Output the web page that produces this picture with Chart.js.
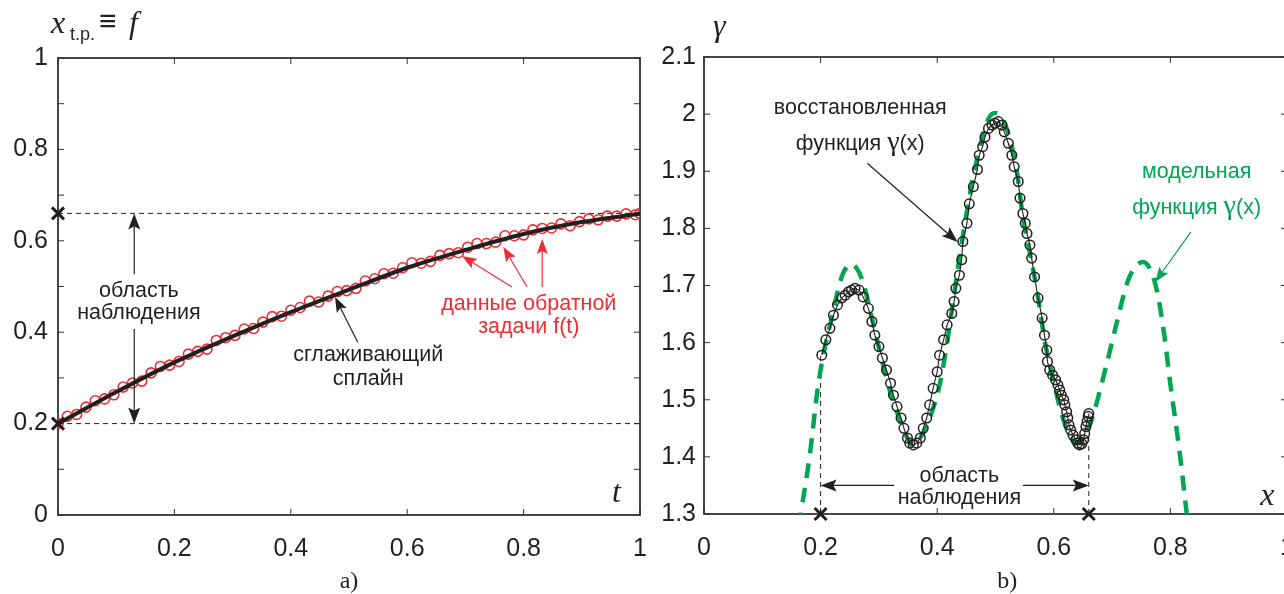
<!DOCTYPE html>
<html>
<head>
<meta charset="utf-8">
<script src="https://cdn.jsdelivr.net/npm/chart.js@4"></script>
<style>
  html, body { margin: 0; padding: 0; background: #fff; overflow: hidden; width: 1284px; height: 594px; }
  #wrapA { position: absolute; left: 0; top: 0; width: 660px; height: 594px; }
  #wrapB { position: absolute; left: 656px; top: 0; width: 650px; height: 594px; }
</style>
</head>
<body>
<div id="wrapA"><canvas id="chartA"></canvas></div>
<div id="wrapB"><canvas id="chartB"></canvas></div>
<script>
// panel a) : inverse problem data f(t) and smoothing spline
const T_DATA = [0, 0.016, 0.032, 0.048, 0.064, 0.08, 0.096, 0.112, 0.128, 0.144, 0.16, 0.176, 0.192, 0.208, 0.224, 0.24,
  0.256, 0.272, 0.288, 0.304, 0.32, 0.336, 0.352, 0.368, 0.384, 0.4, 0.416, 0.432, 0.448, 0.464, 0.48, 0.496,
  0.512, 0.528, 0.544, 0.56, 0.576, 0.592, 0.608, 0.624, 0.64, 0.656, 0.672, 0.688, 0.704, 0.72, 0.736, 0.752,
  0.768, 0.784, 0.8, 0.816, 0.832, 0.848, 0.864, 0.88, 0.896, 0.912, 0.928, 0.944, 0.96, 0.976, 0.992, 1.0];
const F_DATA = [0.200, 0.216, 0.220, 0.236, 0.250, 0.254, 0.263, 0.280, 0.289, 0.293, 0.311, 0.325, 0.328, 0.336, 0.352, 0.358,
  0.363, 0.382, 0.388, 0.393, 0.407, 0.408, 0.422, 0.434, 0.435, 0.448, 0.454, 0.468, 0.466, 0.479, 0.489, 0.491,
  0.496, 0.512, 0.517, 0.528, 0.529, 0.541, 0.552, 0.551, 0.555, 0.568, 0.572, 0.574, 0.586, 0.594, 0.594, 0.597,
  0.611, 0.611, 0.613, 0.624, 0.627, 0.628, 0.637, 0.633, 0.642, 0.648, 0.646, 0.654, 0.654, 0.659, 0.657, 0.660];
const T_SPLINE = [0, 0.1, 0.2, 0.3, 0.4, 0.5, 0.6, 0.7, 0.8, 0.9, 1.0];
const F_SPLINE = [0.200, 0.269, 0.334, 0.391, 0.444, 0.493, 0.541, 0.580, 0.615, 0.641, 0.659];
const BOUNDS = [0.2, 0.66];

// panel b) : reconstructed and model gamma(x)
const X_REC = [0.202, 0.209, 0.216, 0.222, 0.229, 0.236, 0.242, 0.248, 0.253, 0.259, 0.266, 0.273, 0.282, 0.288, 0.293, 0.300,
  0.306, 0.313, 0.320, 0.325, 0.331, 0.338, 0.343, 0.349, 0.353, 0.359, 0.365, 0.371, 0.376, 0.382, 0.387, 0.393,
  0.400, 0.404, 0.411, 0.417, 0.425, 0.429, 0.432, 0.438, 0.442, 0.444, 0.451, 0.455, 0.462, 0.469, 0.472, 0.478,
  0.482, 0.488, 0.494, 0.499, 0.505, 0.511, 0.515, 0.522, 0.528, 0.532, 0.539, 0.542, 0.547, 0.551, 0.554, 0.559,
  0.562, 0.567, 0.573, 0.580, 0.584, 0.588, 0.589, 0.593, 0.598, 0.603, 0.607, 0.610, 0.613, 0.617, 0.619, 0.622,
  0.624, 0.626, 0.629, 0.633, 0.638, 0.641, 0.644, 0.648, 0.651, 0.653, 0.655, 0.657, 0.659, 0.660];
const G_REC = [1.578, 1.605, 1.625, 1.648, 1.666, 1.678, 1.683, 1.689, 1.692, 1.695, 1.692, 1.680, 1.660, 1.637, 1.613, 1.593,
  1.573, 1.552, 1.529, 1.508, 1.488, 1.468, 1.450, 1.433, 1.424, 1.421, 1.424, 1.433, 1.450, 1.468, 1.491, 1.520,
  1.549, 1.578, 1.605, 1.631, 1.651, 1.672, 1.695, 1.718, 1.745, 1.777, 1.809, 1.843, 1.873, 1.903, 1.928, 1.943,
  1.960, 1.975, 1.981, 1.984, 1.987, 1.981, 1.969, 1.949, 1.928, 1.908, 1.882, 1.853, 1.826, 1.809, 1.791, 1.771,
  1.748, 1.715, 1.678, 1.643, 1.613, 1.587, 1.567, 1.552, 1.543, 1.535, 1.526, 1.517, 1.508, 1.500, 1.491, 1.479,
  1.468, 1.456, 1.447, 1.438, 1.430, 1.424, 1.421, 1.423, 1.430, 1.441, 1.453, 1.462, 1.471, 1.476];
const X_MODEL = [0.150, 0.166, 0.182, 0.194, 0.204, 0.221, 0.233, 0.245, 0.253, 0.262, 0.273, 0.290, 0.305, 0.322, 0.336, 0.347,
  0.358, 0.372, 0.388, 0.405, 0.417, 0.434, 0.451, 0.468, 0.487, 0.499, 0.512, 0.525, 0.537, 0.547, 0.559, 0.571,
  0.585, 0.600, 0.615, 0.628, 0.642, 0.655, 0.668, 0.690, 0.708, 0.726, 0.740, 0.753, 0.766, 0.777, 0.790, 0.799,
  0.816, 0.828, 0.840];
const G_MODEL = [1.190, 1.300, 1.407, 1.512, 1.575, 1.652, 1.705, 1.733, 1.737, 1.730, 1.705, 1.634, 1.570, 1.505, 1.465, 1.437,
  1.420, 1.435, 1.470, 1.530, 1.600, 1.720, 1.830, 1.920, 1.990, 2.002, 1.992, 1.955, 1.897, 1.820, 1.757, 1.692,
  1.600, 1.530, 1.470, 1.435, 1.425, 1.440, 1.475, 1.560, 1.635, 1.705, 1.733, 1.741, 1.727, 1.690, 1.610, 1.535,
  1.407, 1.300, 1.190];

const INK = '#231f20';
const RED = '#ee2c33';
const GREEN = '#00a651';
const SANS = '"Liberation Sans", Arial, sans-serif';
const SERIF = '"Liberation Serif", "Times New Roman", serif';

Chart.defaults.font.family = SANS;
Chart.defaults.font.size = 25;
Chart.defaults.color = INK;

const pairs = (xs, ys) => xs.map((v, i) => ({ x: v, y: ys[i] }));

function arrow(ctx, x1, y1, x2, y2, color, len = 15, half = 5.5) {
  const a = Math.atan2(y2 - y1, x2 - x1);
  const c = Math.cos(a), s = Math.sin(a);
  ctx.save();
  ctx.strokeStyle = color;
  ctx.fillStyle = color;
  ctx.lineWidth = 1.2;
  ctx.beginPath();
  ctx.moveTo(x1, y1);
  ctx.lineTo(x2 - c * len * 0.7, y2 - s * len * 0.7);
  ctx.stroke();
  ctx.beginPath();
  ctx.moveTo(x2, y2);
  ctx.lineTo(x2 - c * len + s * half, y2 - s * len - c * half);
  ctx.lineTo(x2 - c * len * 0.8, y2 - s * len * 0.8);
  ctx.lineTo(x2 - c * len - s * half, y2 - s * len + c * half);
  ctx.closePath();
  ctx.fill();
  ctx.restore();
}

// parts: [text, font, colour]; drawn centred on cx at baseline y
function runs(ctx, parts, cx, y) {
  let w = 0;
  parts.forEach(p => { ctx.font = p[1]; w += ctx.measureText(p[0]).width; });
  let x = cx - w / 2;
  ctx.textAlign = 'left';
  ctx.textBaseline = 'alphabetic';
  parts.forEach(p => {
    ctx.font = p[1];
    ctx.fillStyle = p[2];
    ctx.fillText(p[0], x, y);
    x += ctx.measureText(p[0]).width;
  });
}

const NOTE = '21.5px ' + SANS;
const GAMMA = '28px ' + SERIF;
const MATH = 'italic 32px ' + SERIF;

const frame = {
  id: 'frame',
  beforeDatasetsDraw(chart) {
    const { ctx, chartArea: a, scales: { x, y } } = chart;
    ctx.save();
    ctx.strokeStyle = '#333';
    ctx.lineWidth = 1;
    ctx.beginPath();
    x.ticks.forEach(t => {
      const p = x.getPixelForValue(t.value);
      ctx.moveTo(p, a.bottom); ctx.lineTo(p, a.bottom - 6);
      ctx.moveTo(p, a.top); ctx.lineTo(p, a.top + 6);
    });
    y.ticks.forEach(t => {
      const p = y.getPixelForValue(t.value);
      ctx.moveTo(a.left, p); ctx.lineTo(a.left + 6, p);
      ctx.moveTo(a.right, p); ctx.lineTo(a.right - 6, p);
    });
    ctx.stroke();
    ctx.lineWidth = 1.8;
    ctx.strokeRect(a.left, a.top, a.right - a.left, a.bottom - a.top);
    ctx.restore();
  }
};

const notesA = {
  id: 'notesA',
  afterDatasetsDraw(chart) {
    const { ctx, chartArea: a, scales: { x, y } } = chart;
    const X = v => x.getPixelForValue(v), Y = v => y.getPixelForValue(v);
    ctx.save();
    // observation interval
    arrow(ctx, X(0.131), Y(0.527), X(0.131), Y(0.66), INK, 16, 6);
    arrow(ctx, X(0.131), Y(0.407), X(0.131), Y(0.2), INK, 16, 6);
    runs(ctx, [['область', NOTE, INK]], X(0.139), Y(0.477));
    runs(ctx, [['наблюдения', NOTE, INK]], X(0.139), Y(0.4286));
    // spline
    arrow(ctx, X(0.515), Y(0.378), X(0.476), Y(0.477), INK, 15, 5.5);
    runs(ctx, [['сглаживающий', NOTE, INK]], X(0.533), Y(0.336));
    runs(ctx, [['сплайн', NOTE, INK]], X(0.533), Y(0.2835));
    // data
    arrow(ctx, X(0.780), Y(0.499), X(0.694), Y(0.567), RED, 15, 5.5);
    arrow(ctx, X(0.806), Y(0.499), X(0.765), Y(0.587), RED, 15, 5.5);
    arrow(ctx, X(0.832), Y(0.499), X(0.832), Y(0.604), RED, 15, 5.5);
    runs(ctx, [['данные обратной', NOTE, RED]], X(0.809), Y(0.448));
    runs(ctx, [['задачи f(t)', NOTE, RED]], X(0.809), Y(0.398));
    // axis names
    ctx.fillStyle = INK;
    ctx.textAlign = 'left';
    ctx.font = MATH;
    ctx.fillText('x', a.left - 7, a.top - 25);
    ctx.font = '18px ' + SANS;
    ctx.fillText('t.p.', a.left + 12, a.top - 18);
    ctx.font = '30px ' + SANS;
    ctx.fillText('\u2261', a.left + 41, a.top - 27);
    ctx.font = MATH;
    ctx.fillText('f', a.left + 71, a.top - 25);
    ctx.fillText('t', X(0.952), Y(0.0286));
    ctx.font = '24px ' + SERIF;
    ctx.textAlign = 'center';
    ctx.fillText('a)', (a.left + a.right) / 2, a.bottom + 73);
    ctx.restore();
  }
};

const notesB = {
  id: 'notesB',
  afterDatasetsDraw(chart) {
    const { ctx, chartArea: a, scales: { x, y } } = chart;
    const X = v => x.getPixelForValue(v), Y = v => y.getPixelForValue(v);
    ctx.save();
    // observation interval
    arrow(ctx, X(0.326), Y(1.35), X(BOUNDS[0]), Y(1.35), INK, 16, 6);
    arrow(ctx, X(0.547), Y(1.35), X(BOUNDS[1]), Y(1.35), INK, 16, 6);
    runs(ctx, [['область', NOTE, INK]], X(0.438), Y(1.356));
    runs(ctx, [['наблюдения', NOTE, INK]], X(0.438), Y(1.3175));
    // reconstructed
    runs(ctx, [['восстановленная', NOTE, INK]], X(0.268), Y(2.0));
    runs(ctx, [['функция ', NOTE, INK], ['\u03b3', GAMMA, INK], ['(x)', NOTE, INK]], X(0.268), Y(1.937));
    arrow(ctx, X(0.28), Y(1.914), X(0.435), Y(1.776), INK, 16, 6);
    // model
    runs(ctx, [['модельная', NOTE, GREEN]], X(0.845), Y(1.888));
    runs(ctx, [['функция ', NOTE, GREEN], ['\u03b3', GAMMA, GREEN], ['(x)', NOTE, GREEN]], X(0.845), Y(1.825));
    arrow(ctx, X(0.835), Y(1.794), X(0.774), Y(1.706), GREEN, 15, 5.5);
    // axis names
    ctx.fillStyle = INK;
    ctx.textAlign = 'left';
    ctx.font = MATH;
    ctx.fillText('\u03b3', a.left + 9, a.top - 21);
    ctx.fillText('x', X(0.954), a.bottom - 9);
    ctx.font = '24px ' + SERIF;
    ctx.textAlign = 'center';
    ctx.fillText('b)', X(0.52), a.bottom + 74);
    ctx.restore();
  }
};

const fmt = v => String(+v.toFixed(1));

const crossSet = pts => ({
  data: pts,
  showLine: false,
  pointStyle: 'crossRot',
  pointRadius: 8.5,
  pointBorderWidth: 3,
  pointBorderColor: INK,
  borderColor: INK,
  clip: false,
  order: 0
});

const dashSet = pts => ({
  data: pts,
  showLine: true,
  borderColor: INK,
  borderWidth: 1,
  borderDash: [5, 4],
  pointRadius: 0,
  order: 3
});

const xFit = h => s => { s.height = h; s.paddingLeft = 0; s.paddingRight = 0; };
const yFit = w => s => { s.width = w; s.paddingTop = 0; s.paddingBottom = 0; };

new Chart(document.getElementById('chartA'), {
  type: 'scatter',
  data: {
    datasets: [
      {
        label: 'сглаживающий сплайн',
        data: pairs(T_SPLINE, F_SPLINE),
        showLine: true,
        cubicInterpolationMode: 'monotone',
        borderColor: INK,
        borderWidth: 4,
        pointRadius: 0,
        order: 1
      },
      {
        label: 'данные обратной задачи f(t)',
        data: pairs(T_DATA, F_DATA),
        showLine: false,
        pointRadius: 5,
        pointBorderWidth: 1.6,
        pointBorderColor: RED,
        pointBackgroundColor: 'rgba(0,0,0,0)',
        borderColor: RED,
        order: 2
      },
      dashSet([{ x: 0, y: BOUNDS[0] }, { x: 1, y: BOUNDS[0] }]),
      dashSet([{ x: 0, y: BOUNDS[1] }, { x: 1, y: BOUNDS[1] }]),
      crossSet([{ x: 0, y: BOUNDS[0] }, { x: 0, y: BOUNDS[1] }])
    ]
  },
  options: {
    responsive: true,
    maintainAspectRatio: false,
    animation: false,
    layout: { padding: { top: 58, right: 20, left: 0, bottom: 0 } },
    scales: {
      x: {
        type: 'linear', min: 0, max: 1,
        grid: { display: false, drawTicks: false },
        border: { display: false },
        ticks: { stepSize: 0.2, padding: 19, maxRotation: 0, callback: fmt },
        afterFit: xFit(79)
      },
      y: {
        min: 0, max: 1,
        grid: { display: false, drawTicks: false },
        border: { display: false },
        ticks: { stepSize: 0.1, padding: 10, callback: v => (Math.round(v * 10) % 2 ? '' : fmt(v)) },
        afterFit: yFit(58)
      }
    },
    plugins: { legend: { display: false }, tooltip: { enabled: false } }
  },
  plugins: [frame, notesA]
});

new Chart(document.getElementById('chartB'), {
  type: 'scatter',
  data: {
    datasets: [
      {
        label: 'восстановленная функция γ(x)',
        data: pairs(X_REC, G_REC),
        showLine: true,
        borderColor: INK,
        borderWidth: 1.1,
        pointRadius: 4.8,
        pointBorderWidth: 1.5,
        pointBorderColor: INK,
        pointBackgroundColor: 'rgba(0,0,0,0)',
        order: 1
      },
      {
        label: 'модельная функция γ(x)',
        data: pairs(X_MODEL, G_MODEL),
        showLine: true,
        cubicInterpolationMode: 'monotone',
        borderColor: GREEN,
        borderWidth: 4.5,
        borderDash: [15, 10],
        pointRadius: 0,
        order: 2
      },
      dashSet([{ x: BOUNDS[0], y: 1.3 }, { x: BOUNDS[0], y: 1.578 }]),
      dashSet([{ x: BOUNDS[1], y: 1.3 }, { x: BOUNDS[1], y: 1.44 }]),
      crossSet([{ x: BOUNDS[0], y: 1.3 }, { x: BOUNDS[1], y: 1.3 }])
    ]
  },
  options: {
    responsive: true,
    maintainAspectRatio: false,
    animation: false,
    layout: { padding: { top: 57, right: 19, left: 0, bottom: 0 } },
    scales: {
      x: {
        type: 'linear', min: 0, max: 1,
        grid: { display: false, drawTicks: false },
        border: { display: false },
        ticks: { stepSize: 0.2, padding: 19, maxRotation: 0, callback: fmt },
        afterFit: xFit(80)
      },
      y: {
        min: 1.3, max: 2.1,
        grid: { display: false, drawTicks: false },
        border: { display: false },
        ticks: { stepSize: 0.1, padding: 8, callback: fmt },
        afterFit: yFit(48)
      }
    },
    plugins: { legend: { display: false }, tooltip: { enabled: false } }
  },
  plugins: [frame, notesB]
});
</script>
</body>
</html>
